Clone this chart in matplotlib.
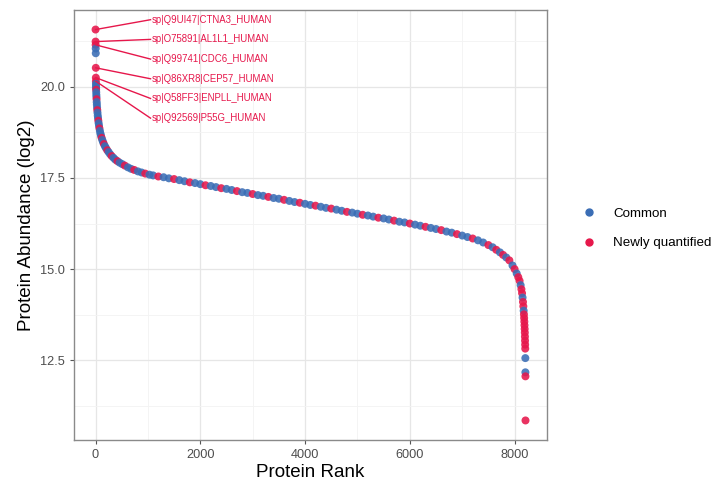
import matplotlib.pyplot as plt
import numpy as np
import pandas as pd
from matplotlib.lines import Line2D

# rank-ordered protein abundances (log2)
rank = [
    1, 2, 3, 4, 5, 6, 7, 8, 9, 10, 11, 12, 14, 16, 18, 20, 23, 26, 30, 34,
    38, 43, 48, 54, 60, 67, 75, 84, 94, 105, 117, 130, 145, 160, 180, 200, 225, 250, 280, 310,
    345, 380, 420, 460, 510, 560, 620, 680, 740, 810, 880, 950, 1030, 1100, 1200, 1300, 1400, 1500, 1600, 1700,
    1800, 1900, 2000, 2100, 2200, 2300, 2400, 2500, 2600, 2700, 2800, 2900, 3000, 3100, 3200, 3300, 3400, 3500, 3600, 3700,
    3800, 3900, 4000, 4100, 4200, 4300, 4400, 4500, 4600, 4700, 4800, 4900, 5000, 5100, 5200, 5300, 5400, 5500, 5600, 5700,
    5800, 5900, 6000, 6100, 6200, 6300, 6400, 6500, 6600, 6700, 6800, 6900, 7000, 7100, 7200, 7300, 7400, 7500, 7580, 7650,
    7720, 7780, 7840, 7900, 7960, 8000, 8040, 8070, 8095, 8115, 8130, 8142, 8152, 8160, 8167, 8173, 8178, 8182, 8186, 8189,
    8192, 8195, 8197, 8199, 8201, 8203, 8205, 8206, 8207, 8208,
]
abundance = [
    21.57, 21.24, 21.15, 21.05, 20.92, 20.52, 20.25, 20.15, 20.08, 20.02, 19.97, 19.92, 19.85, 19.78, 19.72, 19.66, 19.58, 19.51, 19.43, 19.36,
    19.29, 19.21, 19.14, 19.07, 19.00, 18.93, 18.86, 18.79, 18.72, 18.66, 18.60, 18.54, 18.48, 18.43, 18.37, 18.32, 18.26, 18.21, 18.15, 18.10,
    18.05, 18.00, 17.96, 17.92, 17.88, 17.84, 17.79, 17.75, 17.72, 17.68, 17.65, 17.62, 17.59, 17.57, 17.54, 17.52, 17.49, 17.47, 17.44, 17.41,
    17.38, 17.36, 17.33, 17.30, 17.28, 17.25, 17.22, 17.20, 17.17, 17.14, 17.11, 17.09, 17.06, 17.03, 17.01, 16.98, 16.95, 16.93, 16.90, 16.87,
    16.84, 16.82, 16.79, 16.76, 16.74, 16.71, 16.68, 16.66, 16.63, 16.60, 16.57, 16.55, 16.52, 16.49, 16.47, 16.44, 16.41, 16.39, 16.36, 16.33,
    16.30, 16.28, 16.25, 16.22, 16.19, 16.16, 16.13, 16.10, 16.07, 16.03, 16.00, 15.96, 15.92, 15.88, 15.84, 15.79, 15.73, 15.66, 15.60, 15.53,
    15.46, 15.39, 15.32, 15.24, 15.10, 15.00, 14.88, 14.78, 14.68, 14.56, 14.45, 14.34, 14.22, 14.10, 13.98, 13.86, 13.76, 13.66, 13.56, 13.46,
    13.36, 13.26, 13.15, 13.04, 12.93, 12.82, 12.56, 12.17, 12.06, 10.85,
]
# 1 = newly quantified, 0 = common
newly = [
    1, 1, 1, 0, 0, 1, 1, 1, 0, 0, 0, 1, 0, 0, 0, 1, 0, 0, 0, 1,
    0, 0, 0, 1, 0, 0, 1, 0, 0, 0, 1, 0, 0, 1, 0, 0, 1, 0, 0, 1,
    0, 0, 1, 0, 0, 1, 0, 0, 1, 0, 0, 1, 0, 0, 1, 0, 0, 1, 0, 0,
    1, 0, 0, 1, 0, 0, 1, 0, 0, 1, 0, 0, 1, 0, 0, 1, 0, 0, 1, 0,
    0, 1, 0, 0, 1, 0, 0, 1, 0, 0, 1, 0, 0, 1, 0, 0, 1, 0, 0, 1,
    0, 0, 1, 0, 0, 1, 0, 0, 1, 0, 0, 1, 0, 0, 1, 0, 0, 1, 0, 1,
    0, 1, 0, 1, 0, 1, 0, 1, 1, 0, 1, 1, 0, 1, 1, 0, 1, 1, 1, 1,
    1, 1, 1, 1, 1, 1, 0, 0, 1, 1,
]

top_labels = [
    "sp|Q9UI47|CTNA3_HUMAN",
    "sp|O75891|AL1L1_HUMAN",
    "sp|Q99741|CDC6_HUMAN",
    "sp|Q86XR8|CEP57_HUMAN",
    "sp|Q58FF3|ENPLL_HUMAN",
    "sp|Q92569|P55G_HUMAN",
]
top_label_ranks = [1, 2, 3, 6, 7, 8]

df = pd.DataFrame({"rank": rank, "abundance": abundance, "newly": newly})

blue = "#3A6DB5"
red = "#E6174B"

plt.rcParams["font.family"] = ["Liberation Sans", "DejaVu Sans"]

fig = plt.figure(figsize=(7.27, 4.83), dpi=100)
ax = fig.add_axes([74 / 727, 1 - 440 / 483, (547 - 74) / 727, (440 - 10) / 483])

colors = np.where(df["newly"] == 1, red, blue)
ax.scatter(df["rank"], df["abundance"], c=colors, s=33, linewidths=0, alpha=0.88, zorder=3)

# labels for the top proteins
x0 = df["rank"].max() * 0.128
label_y = 21.84
for name, r in zip(top_labels, top_label_ranks):
    y_pt = df.loc[df["rank"] == r, "abundance"].iloc[0]
    ax.plot([r, x0], [y_pt, label_y], color=red, lw=1.0, zorder=4)
    ax.text(x0 + 30, label_y, name, color=red, fontsize=6.9, va="center", ha="left", zorder=5)
    label_y -= 0.54

# theme_bw-like look
n = df["rank"].max()
ax.set_xlim(-0.05 * n, n * 1.05)
lo, hi = df["abundance"].min(), df["abundance"].max()
pad = (hi - lo) * 0.05
ax.set_ylim(lo - pad, hi + pad)
ax.set_xticks([0, 2000, 4000, 6000, 8000])
ax.set_xticks([1000, 3000, 5000, 7000], minor=True)
ax.set_yticks([12.5, 15.0, 17.5, 20.0])
ax.set_yticklabels(["12.5", "15.0", "17.5", "20.0"])
ax.set_yticks([11.25, 13.75, 16.25, 18.75, 21.25], minor=True)
ax.grid(which="major", color="#E6E6E6", lw=0.9, zorder=0)
ax.grid(which="minor", color="#F3F3F3", lw=0.6, zorder=0)
ax.set_axisbelow(True)
for sp in ax.spines.values():
    sp.set_color("#8A8A8A")
    sp.set_linewidth(1.0)
ax.tick_params(which="major", length=3, width=0.8, color="#555555", labelcolor="#4D4D4D", labelsize=9.2)
ax.tick_params(which="minor", length=0)

ax.set_xlabel("Protein Rank", fontsize=13.5, labelpad=2)
ax.set_ylabel("Protein Abundance (log2)", fontsize=13.5, labelpad=4)

handles = [
    Line2D([], [], marker="o", ls="", color=blue, markersize=5),
    Line2D([], [], marker="o", ls="", color=red, markersize=5),
]
fig.legend(handles, ["Common", "Newly quantified"], loc="center left",
           bbox_to_anchor=(0.776, 0.527), frameon=False, fontsize=9.6,
           handletextpad=0.8, labelspacing=1.3)

fig.savefig("out.png", dpi=100)
